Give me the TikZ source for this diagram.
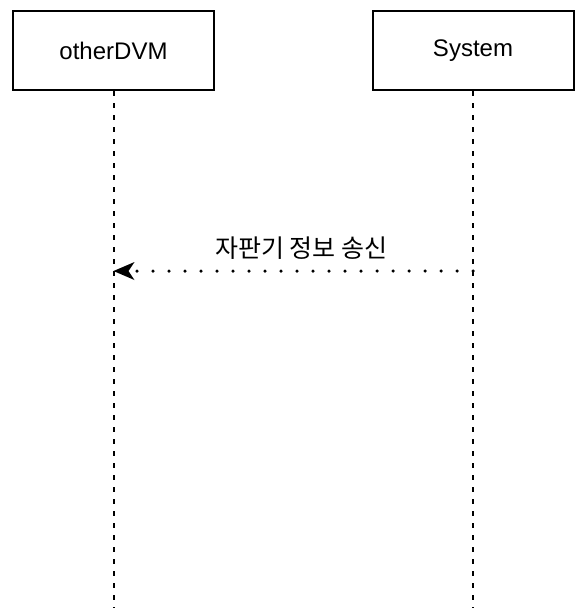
\documentclass[tikz,border=0pt]{standalone}
\usepackage{fontspec}
\setmainfont{Liberation Sans}
\newfontfamily\krfont{Noto Sans CJK KR}
\usetikzlibrary{arrows.meta}

\begin{document}
\begin{tikzpicture}[x=1pt, y=-1pt]
        \tikzstyle{actor}=[draw, line width=2pt, minimum width=201pt, minimum height=79pt, inner sep=0pt, font=\fontsize{24}{28}\selectfont]
        \tikzstyle{lifeline}=[line width=2pt, dash pattern=on 5pt off 7pt]
        \tikzstyle{message}=[line width=3.5pt, line cap=round, dash pattern=on 0pt off 16pt, -{Stealth[length=21pt, width=18pt, inset=6pt, line width=0pt, line cap=butt]}]

        \useasboundingbox (0,0) rectangle (579,608);

        \node[actor] (DVM) at (113.5,50.5)  {otherDVM};
        \node[actor] (SYS) at (473,50.5)  {System};

        \coordinate (DVM_end) at (113.5,608);
        \coordinate (SYS_end) at (473,608);
        \coordinate (DVM_msg) at (113.5,271);
        \coordinate (SYS_msg) at (473,271);

        \draw[lifeline] (DVM) -- (DVM_end);
        \draw[lifeline] (SYS) -- (SYS_end);
        \draw[message] (SYS_msg) -- (DVM_msg) node[pos=0.478, yshift=23pt, font=\krfont\fontsize{25}{28}\selectfont] {자판기 정보 송신};
    \end{tikzpicture}
\end{document}
